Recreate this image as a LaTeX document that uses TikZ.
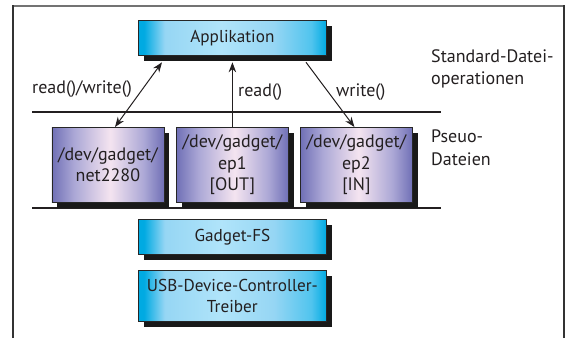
\documentclass[tikz,border=0pt]{standalone}
\usepackage{fontspec}
\setmainfont{PT Sans}
\usetikzlibrary{shadows,arrows.meta,calc}
\definecolor{txt}{RGB}{35,31,32}
\definecolor{cyD}{RGB}{0,170,226}
\definecolor{cyM}{RGB}{80,196,238}
\definecolor{cyL}{RGB}{150,214,244}
\definecolor{cyLL}{RGB}{176,228,250}
\definecolor{puE}{RGB}{112,112,182}
\definecolor{puM}{RGB}{172,168,214}
\definecolor{puC}{RGB}{244,228,240}
% TikZ fits the middle 25bp..75bp of a shading to the path
\pgfdeclarehorizontalshading{cyanbar}{100bp}{color(0bp)=(cyD); color(25bp)=(cyD); color(26.5bp)=(cyD); color(32bp)=(cyL); color(47bp)=(cyLL); color(61bp)=(cyL); color(71bp)=(cyM); color(75bp)=(cyD); color(100bp)=(cyD)}
\pgfdeclarehorizontalshading{purplebar}{100bp}{color(0bp)=(puE); color(25bp)=(puE); color(35bp)=(puM); color(51bp)=(puC); color(66bp)=(puM); color(75bp)=(puE); color(100bp)=(puE)}
\begin{document}
\begin{tikzpicture}[x=1pt,y=1pt,
  every node/.style={font=\fontsize{18}{21.5}\selectfont, text=txt},
  sbox/.style={draw=black!85, line width=0.8pt, inner sep=0pt, anchor=north west, align=center,
    drop shadow={shadow xshift=5.5pt,shadow yshift=-5.5pt,fill=black!90,opacity=1}},
  cyanbox/.style={sbox, shade, shading=cyanbar, minimum width=188pt, font=\fontsize{17.2}{21.5}\selectfont},
  pbox/.style={sbox, shade, shading=purplebar, minimum width=112pt, minimum height=75pt},
  conn/.style={line width=1pt, draw=txt, >={Stealth[length=10pt,width=7.5pt]}},
  sepline/.style={line width=1.2pt, draw=txt},
  lbl/.style={anchor=base west, align=left, inner sep=0pt, font=\fontsize{18}{22.5}\selectfont}
]
\useasboundingbox (0,0) rectangle (568,338);
% frame
\draw[line width=1.3pt, black!55] (13,332) -- (564,332);
\draw[line width=1.3pt, black!80] (13,0) -- (13,332.6);
\draw[line width=1.3pt, black!80] (564,0) -- (564,332.6);
% separator lines
\draw[sepline] (32,226) -- (441,226);
\draw[sepline] (32,130) -- (441,130);
% boxes
\node[cyanbox, minimum height=35.5pt] (app) at (138,318) {Applikation};
\node[pbox] (p1) at (51.5,211) {/dev/gadget/\\net2280};
\node[pbox] (p2) at (176,211) {/dev/gadget/\\ep1\\{[OUT]}};
\node[pbox] (p3) at (300,211) {/dev/gadget/\\ep2\\{[IN]}};
\node[cyanbox, minimum height=35pt] (gfs) at (138,119) {Gadget-FS};
\node[cyanbox, minimum height=51pt] (usb) at (138,68) {USB-Device-Controller-\\Treiber};
% connectors
\draw[conn,<->] ([xshift=24pt,yshift=-6pt]app.south west) -- ([xshift=63.5pt]p1.north west);
\draw[conn,->] (p2.north) -- ([yshift=-6pt]app.south);
\draw[conn,->] ([xshift=168pt,yshift=-6pt]app.south west) -- ([xshift=-2pt]p3.north);
% labels (base anchor of a two-line node is on its last line)
\node[lbl] (lrw) at (32,244) {read()/write()};
\node[lbl] (lr) at (238,241.5) {read()};
\node[lbl] (lw) at (336,241.5) {write()};
\node[lbl] (lstd) at (431,253) {Standard-Datei-\\operationen};
\node[lbl] (lpse) at (431,172.5) {Pseuo-\\Dateien};
\end{tikzpicture}
\end{document}
